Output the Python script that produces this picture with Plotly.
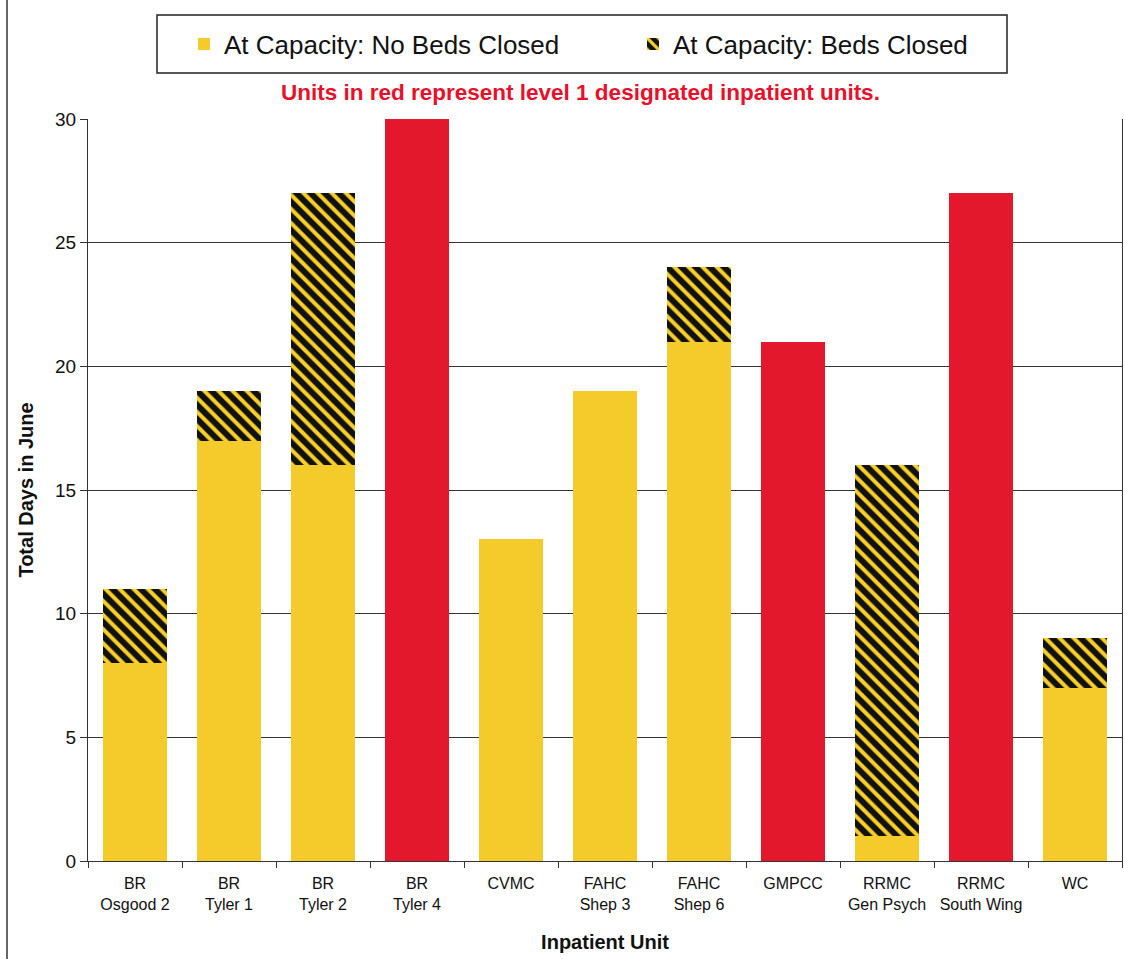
import plotly.graph_objects as go

units = ["BR<br>Osgood 2", "BR<br>Tyler 1", "BR<br>Tyler 2", "BR<br>Tyler 4", "CVMC",
         "FAHC<br>Shep 3", "FAHC<br>Shep 6", "GMPCC", "RRMC<br>Gen Psych",
         "RRMC<br>South Wing", "WC"]
no_beds_closed = [8, 17, 16, None, 13, 19, 21, None, 1, None, 7]
beds_closed = [3, 2, 11, None, None, None, 3, None, 15, None, 2]
level1_days = [None, None, None, 30, None, None, None, 21, None, 27, None]
y_ticks = [0, 5, 10, 15, 20, 25, 30]

YELLOW = "#F5CB2B"
RED = "#E3182C"
FONT = "Liberation Sans, Arial, sans-serif"

fig = go.Figure()
fig.add_trace(go.Bar(x=units, y=no_beds_closed, name="At Capacity: No Beds Closed",
                     marker=dict(color=YELLOW, line=dict(width=0))))
fig.add_trace(go.Bar(x=units, y=beds_closed, name="At Capacity: Beds Closed",
                     marker=dict(color="#111111", line=dict(width=0),
                                 pattern=dict(shape="\\", fgcolor="#F8CF28", bgcolor="#111111",
                                              fgopacity=1, size=10, solidity=0.4,
                                              fillmode="overlay"))))
fig.add_trace(go.Bar(x=units, y=level1_days, name="Level 1", showlegend=False,
                     marker=dict(color=RED, line=dict(width=0))))

legend_left_px = 184
fig.update_layout(
    width=1125, height=959,
    barmode="stack", bargap=0.31,
    plot_bgcolor="white", paper_bgcolor="white",
    margin=dict(l=88, r=3, t=119, b=98),
    font=dict(family=FONT, color="#111111"),
    showlegend=True,
    legend=dict(orientation="h", traceorder="normal",
                x=(legend_left_px - 88) / 1034, xanchor="left",
                y=(861 - 44) / 742, yanchor="middle",
                font=dict(size=26, family=FONT), entrywidth=404, entrywidthmode="pixels",
                bgcolor="rgba(0,0,0,0)"),
    shapes=[
        dict(type="rect", xref="paper", yref="paper", x0=(157 - 88) / 1034, x1=(1007 - 88) / 1034,
             y0=(861 - 73) / 742, y1=(861 - 15) / 742, line=dict(color="#222222", width=1.5)),
        dict(type="line", xref="paper", yref="paper", x0=(7 - 88) / 1034, x1=(7 - 88) / 1034,
             y0=-0.14, y1=1.2, line=dict(color="#333333", width=1.5)),
    ],
    annotations=[
        dict(text="<b>Units in red represent level 1 designated inpatient units.</b>",
             xref="paper", yref="paper", x=(580 - 88) / 1034, y=(861 - 92) / 742,
             xanchor="center", yanchor="middle", showarrow=False,
             font=dict(size=22.5, color="#E8102A", family=FONT)),
    ],
)
fig.update_xaxes(
    type="category", tickson="boundaries", ticks="outside", ticklen=6, tickcolor="#333",
    showline=True, linecolor="#333", linewidth=1,
    tickfont=dict(size=16, family=FONT), ticklabelstandoff=8,
    title=dict(text="<b>Inpatient Unit</b>", font=dict(size=20, family=FONT), standoff=22),
)
fig.update_yaxes(
    range=[0, 30], tickvals=y_ticks, ticks="outside", ticklen=7, tickcolor="#333",
    showline=True, linecolor="#333", linewidth=1, mirror=True,
    showgrid=True, gridcolor="#333333", gridwidth=1, zeroline=False,
    tickfont=dict(size=19, family=FONT),
    title=dict(text="<b>Total Days in June</b>", font=dict(size=20, family=FONT), standoff=16),
)

fig.write_html("out.html", config={"displayModeBar": False},
               post_script="document.body.style.margin='0';document.body.style.overflow='hidden';")
